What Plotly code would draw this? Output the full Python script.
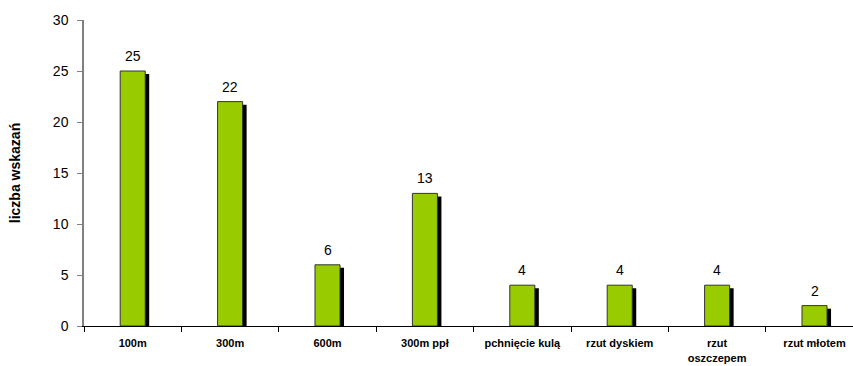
import plotly.graph_objects as go

# Number of responses per athletics event
categories = ["100m", "300m", "600m", "300m ppł", "pchnięcie kulą",
              "rzut dyskiem", "rzut<br>oszczepem", "rzut młotem"]
values = [25, 22, 6, 13, 4, 4, 4, 2]

y_title = "liczba wskazań"
y_ticks = [0, 5, 10, 15, 20, 25, 30]

FONT = "Liberation Sans, Arial, sans-serif"
BAR_W = 0.257
SHADOW_DX = 0.041
SHADOW_DY = 0.3

fig = go.Figure()

# drop shadow behind each bar
fig.add_trace(go.Bar(
    x=categories, y=values, base=[-SHADOW_DY] * len(values),
    width=BAR_W, offset=-BAR_W / 2 + SHADOW_DX,
    marker=dict(color="#000000", line=dict(width=0)),
    hoverinfo="skip", showlegend=False,
))

# main green bars
fig.add_trace(go.Bar(
    x=categories, y=values,
    width=BAR_W, offset=-BAR_W / 2,
    marker=dict(color="#99CC00", line=dict(color="#333333", width=1)),
    showlegend=False,
))

# value labels above bars
for c, v in zip(categories, values):
    fig.add_annotation(
        x=c, y=v, text=str(v), showarrow=False,
        xanchor="center", yanchor="bottom", yshift=5,
        font=dict(family=FONT, size=14, color="#000000"),
    )

fig.update_layout(
    width=853, height=366,
    margin=dict(l=84, r=0, t=20, b=40),
    barmode="overlay",
    plot_bgcolor="white", paper_bgcolor="white",
    font=dict(family=FONT, color="#000000"),
)

fig.update_xaxes(
    type="category",
    range=[-0.5, 7.395],
    showline=True, linecolor="#000000", linewidth=1,
    ticks="outside", tickson="boundaries", ticklen=5,
    tickcolor="#000000", tickwidth=1,
    tickfont=dict(family=FONT, size=11, color="#000000", weight="bold"),
    ticklabelstandoff=7,
    showgrid=False, zeroline=False,
)

fig.update_yaxes(
    range=[0, 30],
    tickvals=y_ticks,
    showline=True, linecolor="#808080", linewidth=1.5,
    ticks="outside", ticklen=5, tickcolor="#808080", tickwidth=1,
    tickfont=dict(family=FONT, size=14, color="#000000"),
    ticklabelstandoff=6,
    showgrid=False, zeroline=False,
    title=dict(text=y_title, standoff=29,
               font=dict(family=FONT, size=14, color="#000000", weight="bold")),
)

fig.write_html("out.html")
